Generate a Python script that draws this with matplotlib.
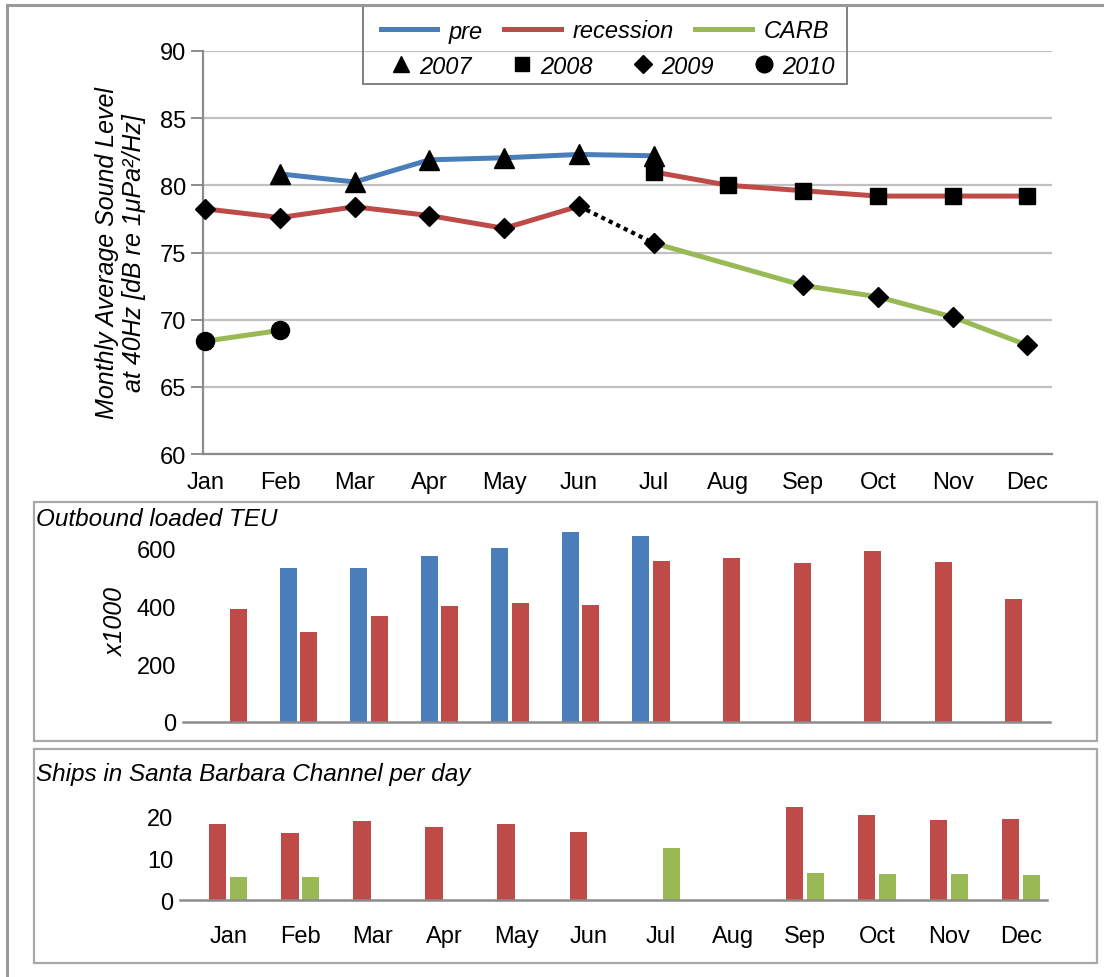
import numpy as np
import matplotlib
matplotlib.use('Agg')
import matplotlib.pyplot as plt
from matplotlib.lines import Line2D
from matplotlib.patches import Rectangle

plt.rcParams['font.family'] = ['Liberation Sans', 'DejaVu Sans']

# data
MONTHS = ['Jan', 'Feb', 'Mar', 'Apr', 'May', 'Jun', 'Jul', 'Aug', 'Sep', 'Oct', 'Nov', 'Dec']

# sound level, dB re 1uPa^2/Hz at 40 Hz
pre_2007_idx = [1, 2, 3, 4, 5, 6]
pre_2007 = [80.85, 80.25, 81.9, 82.05, 82.3, 82.2]
rec_2008_idx = [6, 7, 8, 9, 10, 11]
rec_2008 = [81.0, 80.0, 79.6, 79.2, 79.2, 79.2]
rec_2009_idx = [0, 1, 2, 3, 4, 5]
rec_2009 = [78.25, 77.6, 78.4, 77.75, 76.8, 78.45]
carb_2009_idx = [6, 8, 9, 10, 11]
carb_2009 = [75.7, 72.55, 71.7, 70.2, 68.1]
carb_2010_idx = [0, 1]
carb_2010 = [68.4, 69.2]

# outbound loaded TEU (x1000)
teu_pre = [np.nan, 534, 534, 574, 602, 658, 643, np.nan, np.nan, np.nan, np.nan, np.nan]
teu_rec = [392, 313, 369, 403, 413, 407, 559, 567, 550, 591, 554, 425]

# ships per day in Santa Barbara Channel
ships_rec = [18.0, 16.0, 18.7, 17.4, 18.0, 16.3, np.nan, np.nan, 22.2, 20.2, 19.1, 19.3]
ships_carb = [5.5, 5.5, np.nan, np.nan, np.nan, np.nan, 12.5, np.nan, 6.5, 6.3, 6.1, 6.0]

BLUE = '#4A7EBB'
RED = '#BE4B48'
GREEN = '#98B954'
GRID = '#C0C0C0'
AXIS = '#8C8C8C'

W, H = 1104, 978
TICK_FS = 17


def px_axes(fig, left, top, right, bottom):
    return fig.add_axes([left / W, 1 - bottom / H, (right - left) / W, (bottom - top) / H])


def box(fig, left, top, right, bottom, color='#A8A8A8', lw=1.6):
    fig.patches.append(Rectangle((left / W, 1 - bottom / H), (right - left) / W, (bottom - top) / H,
                                 transform=fig.transFigure, fill=False, edgecolor=color, lw=lw))


fig = plt.figure(figsize=(W / 100, H / 100), dpi=100)

# outer frame (top and left only visible)
fig.add_artist(Line2D([7 / W, 1], [1 - 6 / H, 1 - 6 / H], color='#9A9A9A', lw=2.2, transform=fig.transFigure))
fig.add_artist(Line2D([7 / W, 7 / W], [0, 1 - 6 / H], color='#9A9A9A', lw=2.2, transform=fig.transFigure))

# ---- top: sound level ----
ax = px_axes(fig, 203, 52, 1052, 455)
x = np.arange(len(MONTHS))
lw = 3.6
l_pre, = ax.plot(pre_2007_idx, pre_2007, color=BLUE, lw=lw, zorder=2)
l_rec, = ax.plot(rec_2008_idx, rec_2008, color=RED, lw=lw, zorder=2)
ax.plot(rec_2009_idx, rec_2009, color=RED, lw=lw, zorder=2)
l_carb, = ax.plot(carb_2009_idx, carb_2009, color=GREEN, lw=lw, zorder=2)
ax.plot(carb_2010_idx, carb_2010, color=GREEN, lw=lw, zorder=2)
# dotted link between recession and CARB
ax.plot([rec_2009_idx[-1], carb_2009_idx[0]], [rec_2009[-1], carb_2009[0]],
        color='black', lw=3, ls=(0, (1, 1)), zorder=2)

ax.plot(pre_2007_idx, pre_2007, ls='none', marker='^', ms=14, color='black', zorder=3, clip_on=False)
ax.plot(rec_2008_idx, rec_2008, ls='none', marker='s', ms=12, color='black', zorder=3, clip_on=False)
ax.plot(rec_2009_idx, rec_2009, ls='none', marker='D', ms=10, color='black', zorder=3, clip_on=False)
ax.plot(carb_2009_idx, carb_2009, ls='none', marker='D', ms=10, color='black', zorder=3, clip_on=False)
ax.plot(carb_2010_idx, carb_2010, ls='none', marker='o', ms=13, color='black', zorder=3, clip_on=False)

ax.set_xlim(-0.03, 11.33)
ax.set_ylim(60, 90)
ax.set_yticks(range(60, 91, 5))
ax.set_xticks(x)
ax.set_xticklabels(MONTHS)
ax.yaxis.grid(True, color=GRID, lw=1.6)
ax.set_axisbelow(True)
for s in ['top', 'right']:
    ax.spines[s].set_visible(False)
ax.spines['left'].set_color(AXIS)
ax.spines['bottom'].set_color(AXIS)
ax.spines['left'].set_linewidth(1.6)
ax.spines['bottom'].set_linewidth(1.6)
ax.tick_params(axis='y', length=9, color=AXIS, width=1.4, labelsize=TICK_FS, pad=3)
ax.tick_params(axis='x', length=0, labelsize=TICK_FS, pad=12)
ax.set_ylabel('Monthly Average Sound Level\nat 40Hz [dB re 1\u03bcPa\u00b2/Hz]',
              fontsize=18, style='italic', labelpad=10, linespacing=1.15)

# legend
fig.legend([l_pre, l_rec, l_carb], ['pre', 'recession', 'CARB'], loc='center',
           bbox_to_anchor=(605 / W, 1 - 32 / H), ncol=3, frameon=False,
           prop={'size': 17, 'style': 'italic'}, handlelength=2.4,
           columnspacing=0.9, handletextpad=0.5)
mk = [Line2D([], [], ls='none', marker=m, ms=s, color='black')
      for m, s in [('^', 12), ('s', 10), ('D', 9), ('o', 12)]]
fig.legend(mk, ['2007', '2008', '2009', '2010'], loc='center',
           bbox_to_anchor=(612 / W, 1 - 67 / H), ncol=4, frameon=False,
           prop={'size': 17, 'style': 'italic'}, handlelength=1.0,
           columnspacing=1.6, handletextpad=0.3)
box(fig, 363, 7, 847, 85, color='#7F7F7F', lw=1.4)

# ---- middle: TEU ----
box(fig, 34, 503, 1097, 742)
ax2 = px_axes(fig, 183, 521, 1050, 723)
bw = 0.24
off = 0.145
ax2.bar(x - off, teu_pre, width=bw, color=BLUE)
ax2.bar(x + off, teu_rec, width=bw, color=RED)
ax2.set_xlim(-0.64, 11.66)
ax2.set_ylim(0, 700)
ax2.set_yticks([0, 200, 400, 600])
ax2.set_xticks([])
for s in ['top', 'right', 'left']:
    ax2.spines[s].set_visible(False)
ax2.spines['bottom'].set_color(AXIS)
ax2.spines['bottom'].set_linewidth(1.8)
ax2.tick_params(axis='y', length=0, labelsize=TICK_FS, pad=5)
ax2.set_ylabel('x1000', fontsize=18, style='italic', labelpad=6)
fig.text(36 / W, 1 - 520 / H, 'Outbound loaded TEU', fontsize=17.5, style='italic', va='center', ha='left')

# ---- bottom: ships ----
box(fig, 34, 750, 1097, 964)
ax3 = px_axes(fig, 180, 796, 1047, 901)
ax3.bar(x - off, ships_rec, width=bw, color=RED)
ax3.bar(x + off, ships_carb, width=bw, color=GREEN)
ax3.set_xlim(-0.67, 11.36)
ax3.set_ylim(0, 25)
ax3.set_yticks([0, 10, 20])
ax3.set_xticks(x)
ax3.set_xticklabels(MONTHS)
for s in ['top', 'right', 'left']:
    ax3.spines[s].set_visible(False)
ax3.spines['bottom'].set_color(AXIS)
ax3.spines['bottom'].set_linewidth(1.8)
ax3.tick_params(axis='y', length=0, labelsize=TICK_FS, pad=5)
ax3.tick_params(axis='x', length=0, labelsize=TICK_FS, pad=18)
fig.text(36 / W, 1 - 775 / H, 'Ships in Santa Barbara Channel per day', fontsize=17.5,
         style='italic', va='center', ha='left')

fig.savefig('out.png', dpi=100)
